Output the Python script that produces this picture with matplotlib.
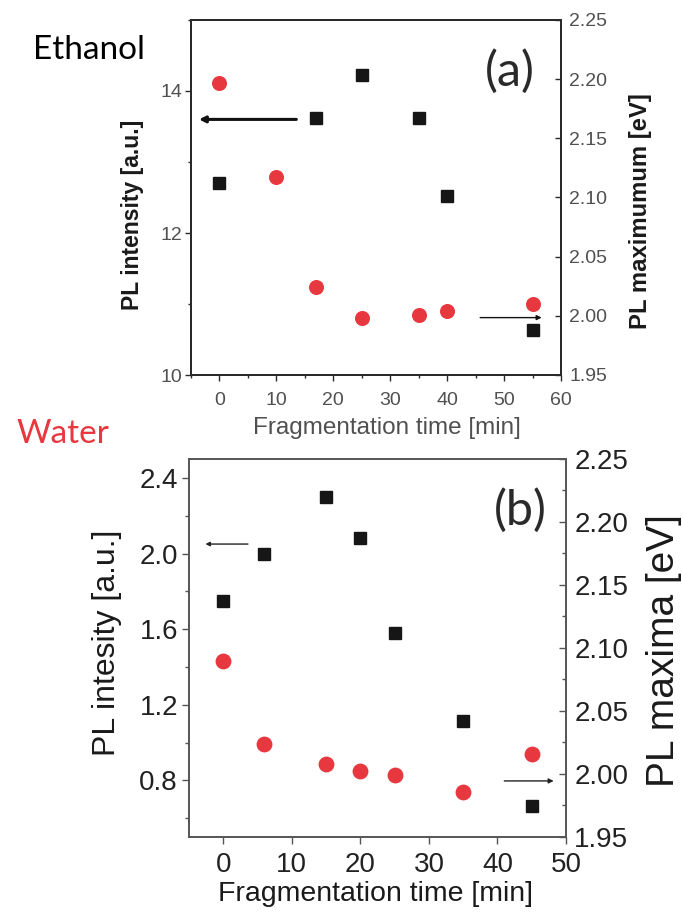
import matplotlib
matplotlib.use("Agg")
import matplotlib.pyplot as plt
from matplotlib.ticker import MultipleLocator, FormatStrFormatter

# ---------------- data ----------------
# Panel (a) Ethanol
eth_t_int = [0, 17, 25, 35, 40, 55]
eth_intensity = [12.71, 13.62, 14.22, 13.62, 12.52, 10.63]
eth_t_max = [0, 10, 17, 25, 35, 40, 55]
eth_maximum = [2.197, 2.117, 2.024, 1.998, 2.001, 2.004, 2.010]

# Panel (b) Water
wat_t_int = [0, 6, 15, 20, 25, 35, 45]
wat_intensity = [1.751, 1.998, 2.297, 2.084, 1.577, 1.116, 0.663]
wat_t_max = [0, 6, 15, 20, 25, 35, 45]
wat_maxima = [2.090, 2.024, 2.008, 2.002, 1.999, 1.986, 2.016]

W, H = 682, 913
RED = "#e8383f"
SQ = "#161616"
NARROW = ["Liberation Sans Narrow", "DejaVu Sans Condensed", "Liberation Sans", "DejaVu Sans"]
SANS = ["Liberation Sans", "DejaVu Sans"]

fig = plt.figure(figsize=(W / 100, H / 100), dpi=100)


def box(l, r, t, b):
    return [l / W, 1 - b / H, (r - l) / W, (b - t) / H]


def fx(x):
    return x / W


def fy(y):
    return 1 - y / H


# ---------------- panel (a) ----------------
ax = fig.add_axes(box(191, 561, 20, 375))
ax2 = ax.twinx()
ax.plot(eth_t_int, eth_intensity, ls="none", marker="s", ms=8.0, color=SQ, zorder=3)
ax2.plot(eth_t_max, eth_maximum, ls="none", marker="o", ms=9.8, color=RED, zorder=3)
ax.set_xlim(-5, 60)
ax.set_ylim(10, 15)
ax2.set_ylim(1.95, 2.25)

ax.xaxis.set_major_locator(MultipleLocator(10))
ax.xaxis.set_minor_locator(MultipleLocator(5))
ax.yaxis.set_major_locator(MultipleLocator(2))
ax.yaxis.set_minor_locator(MultipleLocator(1))
ax.yaxis.set_major_formatter(FormatStrFormatter("%d"))
ax2.yaxis.set_major_locator(MultipleLocator(0.05))
ax2.yaxis.set_major_formatter(FormatStrFormatter("%.2f"))

gray_a = "#505050"
for s in list(ax.spines.values()) + list(ax2.spines.values()):
    s.set_color("#2a2a2a")
    s.set_linewidth(1.4)
ax.tick_params(axis="both", which="both", direction="out", color="#2a2a2a",
               labelcolor=gray_a, labelsize=14, width=1.0, labelfontfamily=NARROW)
ax.tick_params(axis="both", which="major", length=4)
ax.tick_params(axis="both", which="minor", length=2.5)
ax.tick_params(axis="x", pad=8)
ax.tick_params(axis="y", pad=2)
ax2.tick_params(axis="y", which="both", direction="in", length=4, color="#2a2a2a",
                labelcolor=gray_a, labelsize=14, width=1.0, pad=6,
                labelfontfamily=NARROW)

ax.annotate("", xy=(-3.6, 13.6), xytext=(13.5, 13.6),
            arrowprops=dict(arrowstyle="-|>", color="#111111", lw=2.2,
                            mutation_scale=9, shrinkA=0, shrinkB=0))
ax2.annotate("", xy=(56.6, 1.9985), xytext=(45.8, 1.9985),
             arrowprops=dict(arrowstyle="-|>", color="#111111", lw=1.0,
                             mutation_scale=7, shrinkA=0, shrinkB=0))

fig.text(fx(387), fy(428), "Fragmentation time [min]", ha="center", va="center",
         fontsize=17.5, color=gray_a, family=NARROW)
fig.text(fx(133), fy(215), "PL intensity [a.u.]", rotation=90, ha="center",
         va="center", fontsize=16.5, fontweight="bold", color="#1a1a1a", family=SANS)
fig.text(fx(640), fy(211), "PL maximumum [eV]", rotation=90, ha="center",
         va="center", fontsize=17.2, fontweight="bold", color="#1a1a1a", family=SANS)
fig.text(fx(510), fy(71), "(a)", ha="center", va="center", fontsize=35,
         color="#2a2a2a", family=["Lato", "DejaVu Sans"])

# ---------------- panel (b) ----------------
bx = fig.add_axes(box(189, 566, 459, 837))
bx2 = bx.twinx()
bx.plot(wat_t_int, wat_intensity, ls="none", marker="s", ms=8.6, color=SQ, zorder=3)
bx2.plot(wat_t_max, wat_maxima, ls="none", marker="o", ms=10.4, color=RED, zorder=3)
bx.set_xlim(-5, 50)
bx.set_ylim(0.5, 2.5)
bx2.set_ylim(1.95, 2.25)
bx.xaxis.set_major_locator(MultipleLocator(10))
bx.yaxis.set_major_locator(MultipleLocator(0.4))
bx.yaxis.set_minor_locator(MultipleLocator(0.2))
bx.yaxis.set_major_formatter(FormatStrFormatter("%.1f"))
bx2.yaxis.set_major_locator(MultipleLocator(0.05))
bx2.yaxis.set_minor_locator(MultipleLocator(0.025))
bx2.yaxis.set_major_formatter(FormatStrFormatter("%.2f"))

gray_b = "#555555"
for s in list(bx.spines.values()) + list(bx2.spines.values()):
    s.set_color(gray_b)
    s.set_linewidth(1.2)
bx.tick_params(axis="both", which="both", direction="out", color=gray_b,
               labelcolor="#222222", labelsize=20, width=1.0, labelfontfamily=NARROW)
bx.tick_params(axis="both", which="major", length=5)
bx.tick_params(axis="both", which="minor", length=3)
bx.tick_params(axis="x", pad=6)
bx.tick_params(axis="y", pad=3)
bx2.tick_params(axis="y", which="both", direction="in", color=gray_b,
                labelcolor="#222222", labelsize=20, width=1.0, pad=6,
                labelfontfamily=NARROW)
bx2.tick_params(axis="y", which="major", length=5)
bx2.tick_params(axis="y", which="minor", length=3)

bx.annotate("", xy=(-2.6, 2.05), xytext=(3.6, 2.05),
            arrowprops=dict(arrowstyle="-|>", color="#222222", lw=1.0,
                            mutation_scale=6, shrinkA=0, shrinkB=0))
bx2.annotate("", xy=(48.2, 1.9945), xytext=(41.0, 1.9945),
             arrowprops=dict(arrowstyle="-|>", color="#222222", lw=1.0,
                             mutation_scale=7, shrinkA=0, shrinkB=0))

fig.text(fx(376), fy(894), "Fragmentation time [min]", ha="center", va="center",
         fontsize=20.5, color="#1a1a1a", family=NARROW)
fig.text(fx(107), fy(643), "PL intesity [a.u.]", rotation=90, ha="center",
         va="center", fontsize=23, color="#1a1a1a", family=SANS)
fig.text(fx(664), fy(651), "PL maxima [eV]", rotation=90, ha="center",
         va="center", fontsize=28, color="#1a1a1a", family=SANS)
fig.text(fx(520), fy(510), "(b)", ha="center", va="center", fontsize=35,
         color="#2a2a2a", family=["Lato", "DejaVu Sans"])

# ---------------- side titles ----------------
fig.text(fx(33), fy(50), "Ethanol", ha="left", va="center", fontsize=24,
         color="#000000", family=["Lato", "DejaVu Sans"])
fig.text(fx(16), fy(434), "Water", ha="left", va="center", fontsize=24,
         color=RED, family=["Lato", "DejaVu Sans"])

fig.savefig("out.png", dpi=100)
